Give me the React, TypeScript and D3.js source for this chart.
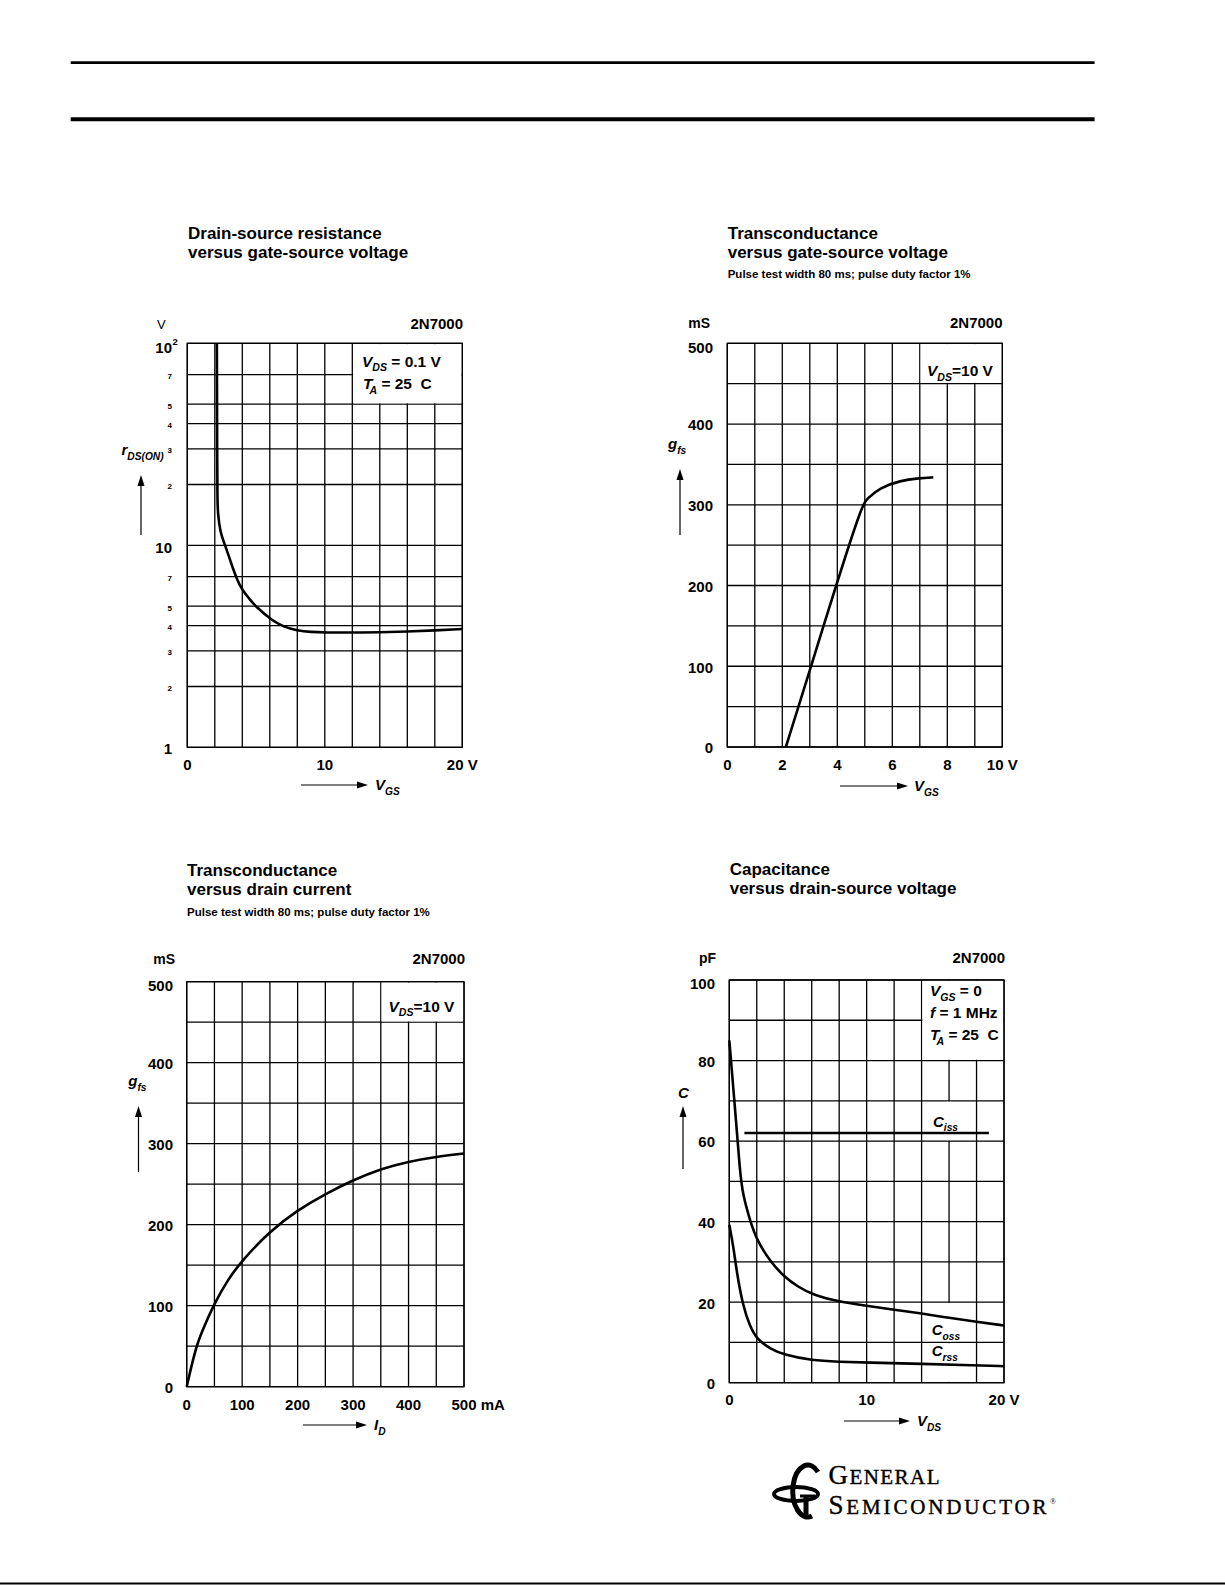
import * as d3 from 'd3';
import React from 'react';

const FONT = '"Liberation Sans", Arial, Helvetica, sans-serif';
const SERIF = '"Liberation Serif", "Times New Roman", serif';

// Drain-source resistance vs gate-source voltage (log y)
const rdsVgs = [2.15, 2.16, 2.17, 2.19, 2.22, 2.4, 2.76, 3.2, 3.6, 4.0, 4.5, 5.0, 6.16, 7.0, 8.0, 9.0, 10, 12, 14, 16, 18, 20];
const rdsOhm = [100, 60, 30, 17, 14.4, 11.5, 10, 8.1, 6.8, 6.0, 5.45, 4.95, 4.25, 3.95, 3.78, 3.72, 3.7, 3.7, 3.71, 3.74, 3.79, 3.85];
const rdsGridY = [1, 2, 3, 4, 5, 7, 10, 20, 30, 40, 50, 70, 100];
const rdsMinorTicks = [2, 3, 4, 5, 7, 20, 30, 40, 50, 70];
const rdsMinorLabels = ['2', '3', '4', '5', '7', '2', '3', '4', '5', '7'];
const rdsXGrid = [0, 2, 4, 6, 8, 10, 12, 14, 16, 18, 20];
const rdsXTicks = [0, 10, 20];
const rdsXLabels = ['0', '10', '20 V'];

// Transconductance vs gate-source voltage
const gfsVgs = [2.13, 3.0, 4.0, 4.9, 5.1, 5.55, 6.28, 7.0, 7.49];
const gfsVgsMs = [0, 95, 205, 300, 308, 321, 330, 333, 334];
const msGrid = [0, 50, 100, 150, 200, 250, 300, 350, 400, 450, 500];
const msTicks = [0, 100, 200, 300, 400, 500];
const vgsXGrid = [0, 1, 2, 3, 4, 5, 6, 7, 8, 9, 10];
const vgsXTicks = [0, 2, 4, 6, 8, 10];
const vgsXLabels = ['0', '2', '4', '6', '8', '10 V'];

// Transconductance vs drain current
const idMa = [0, 10, 20, 30, 50, 75, 100, 150, 200, 250, 300, 350, 400, 450, 500];
const gfsIdMs = [0, 30, 55, 72, 103, 133, 156, 192, 218, 238, 255, 269, 278, 284, 288];
const idXGrid = [0, 50, 100, 150, 200, 250, 300, 350, 400, 450, 500];
const idXTicks = [0, 100, 200, 300, 400, 500];
const idXLabels = ['0', '100', '200', '300', '400', '500'];

// Capacitance vs drain-source voltage
const cissVds = [1.1, 18.9];
const cissPf = [62, 62];
const cossVds = [0, 0.4, 0.78, 1.0, 1.5, 2, 3, 4, 5, 6.1, 8, 10, 12, 14, 16, 18, 20];
const cossPf = [85, 69, 52, 46.5, 40.4, 35.4, 30, 26.3, 23.8, 21.8, 20.1, 19.1, 18.1, 17.2, 16.1, 15.1, 14.2];
const crssVds = [0, 0.3, 0.55, 1.0, 1.5, 2, 3, 4, 6, 8, 10, 14, 18, 20];
const crssPf = [39.2, 33.8, 27.2, 19, 14, 10.8, 8.4, 6.9, 5.5, 5.2, 5.0, 4.7, 4.3, 4.1];
const pfGrid = [0, 10, 20, 30, 40, 50, 60, 70, 80, 90, 100];
const pfTicks = [0, 20, 40, 60, 80, 100];
const vdsXGrid = [0, 2, 4, 6, 8, 10, 12, 14, 16, 18, 20];
const vdsXTicks = [0, 10, 20];
const vdsXLabels = ['0', '10', '20 V'];

type Part = { t: string; i?: boolean; sub?: boolean; sup?: boolean; dx?: number };
type Scale = (v: number) => number;

const Rich: React.FC<{ x: number; y: number; parts: Part[]; size: number; anchor?: string; weight?: string }> = ({ x, y, parts, size, anchor = 'start', weight = 'bold' }) => {
  let shift = 0;
  return (
    <text x={x} y={y} fontSize={size} fontWeight={weight} textAnchor={anchor} fontFamily={FONT} style={{ whiteSpace: 'pre' }}>
      {parts.map((p, k) => {
        const target = p.sub ? size * 0.3 : p.sup ? -size * 0.42 : 0;
        const dy = target - shift;
        shift = target;
        return (
          <tspan key={k} dy={dy} dx={p.dx || 0} fontStyle={p.i ? 'italic' : 'normal'} fontSize={p.sub || p.sup ? size * 0.68 : size}>
            {p.t}
          </tspan>
        );
      })}
    </text>
  );
};

const UpArrow: React.FC<{ x: number; y0: number; y1: number }> = ({ x, y0, y1 }) => (
  <g>
    <line x1={x} x2={x} y1={y0} y2={y1 + 8} stroke="#000" strokeWidth={1.2} />
    <path d={`M${x},${y1} L${x - 3.5},${y1 + 11} L${x + 3.5},${y1 + 11}Z`} fill="#000" />
  </g>
);

const RightArrow: React.FC<{ x0: number; x1: number; y: number }> = ({ x0, x1, y }) => (
  <g>
    <line x1={x0} x2={x1 - 8} y1={y} y2={y} stroke="#000" strokeWidth={1.2} />
    <path d={`M${x1},${y} L${x1 - 11},${y - 3.5} L${x1 - 11},${y + 3.5}Z`} fill="#000" />
  </g>
);

interface Series { xs: number[]; ys: number[]; curve?: boolean }
interface Gap { x: number; from: number; to: number }

const Panel: React.FC<{
  x: d3.ScaleLinear<number, number>;
  y: Scale & { range: () => number[] };
  xGrid: number[];
  yGrid: number[];
  legend: [number, number, number, number];
  gaps?: Gap[];
  series: Series[];
}> = ({ x, y, xGrid, yGrid, legend, gaps = [], series }) => {
  const [l, r] = x.range();
  const [b, t] = y.range();
  const sw = 1.3;
  return (
    <g>
      {yGrid.map((v) => (
        <line key={'h' + v} x1={l} x2={r} y1={y(v)} y2={y(v)} stroke="#000" strokeWidth={sw} />
      ))}
      {xGrid.map((v) => (
        <line key={'v' + v} x1={x(v)} x2={x(v)} y1={t} y2={b} stroke="#000" strokeWidth={sw} />
      ))}
      <rect
        x={x(legend[0]) + 0.8}
        y={y(legend[3]) + 0.8}
        width={x(legend[1]) - x(legend[0]) - 1.6}
        height={y(legend[2]) - y(legend[3]) - 1.6}
        fill="#fff"
      />
      {gaps.map((g, k) => (
        <rect key={'g' + k} x={x(g.x) - 2} width={4} y={y(g.to) + 0.8} height={y(g.from) - y(g.to) - 1.6} fill="#fff" />
      ))}
      <rect x={l} y={t} width={r - l} height={b - t} fill="none" stroke="#000" strokeWidth={sw} />
      {series.map((s, k) => {
        const line = d3
          .line<number>()
          .x((_d, i) => x(s.xs[i]))
          .y((d) => y(d))
          .curve(s.curve === false ? d3.curveLinear : d3.curveBasis);
        return <path key={'s' + k} d={line(s.ys) || ''} fill="none" stroke="#000" strokeWidth={2.6} strokeLinejoin="round" />;
      })}
    </g>
  );
};

const YTicks: React.FC<{ y: Scale; ticks: number[]; labels?: string[]; xr: number; size?: number; top: number }> = ({ y, ticks, labels, xr, size = 15, top }) => (
  <g>
    {ticks.map((v, i) => (
      <text
        key={v}
        x={xr}
        y={y(v) + size * 0.36 + (v === top ? 4 : 1)}
        textAnchor="end"
        fontFamily={FONT}
        fontWeight="bold"
        fontSize={size}
      >
        {labels ? labels[i] : String(v)}
      </text>
    ))}
  </g>
);

const XTicks: React.FC<{ x: Scale; ticks: number[]; labels: string[]; yb: number }> = ({ x, ticks, labels, yb }) => (
  <g>
    {ticks.map((v, i) => (
      <text key={v} x={x(v)} y={yb} textAnchor="middle" fontFamily={FONT} fontWeight="bold" fontSize={15} style={{ whiteSpace: 'pre' }}>
        {labels[i]}
      </text>
    ))}
  </g>
);

const Title: React.FC<{ x: number; y: number; lines: string[]; sub?: string; subY?: number }> = ({ x, y, lines, sub, subY }) => (
  <g fontFamily={FONT} fontWeight="bold">
    {lines.map((s, i) => (
      <text key={i} x={x} y={y + i * 19} fontSize={17}>
        {s}
      </text>
    ))}
    {sub && (
      <text x={x} y={subY} fontSize={11.5}>
        {sub}
      </text>
    )}
  </g>
);

const App: React.FC = () => {
  // panel 1
  const x1 = d3.scaleLinear().domain([0, 20]).range([187.3, 462.3]);
  const y1 = d3.scaleLog().domain([1, 100]).range([747.3, 343.3]);
  // panel 2
  const x2 = d3.scaleLinear().domain([0, 10]).range([727.3, 1002.3]);
  const y2 = d3.scaleLinear().domain([0, 500]).range([747, 343.3]);
  // panel 3
  const x3 = d3.scaleLinear().domain([0, 500]).range([186.7, 464]);
  const y3 = d3.scaleLinear().domain([0, 500]).range([1386.7, 981.7]);
  // panel 4
  const x4 = d3.scaleLinear().domain([0, 20]).range([729.3, 1004]);
  const y4 = d3.scaleLinear().domain([0, 100]).range([1382.7, 980]);

  const lbl = { fontFamily: FONT, fontWeight: 'bold' as const };

  return (
    <svg width={1225} height={1585} style={{ position: 'absolute', left: 0, top: 0 }} xmlns="http://www.w3.org/2000/svg">
      <rect width={1225} height={1585} fill="#fff" />
      {/* page header rules */}
      <line x1={70.7} x2={1094.6} y1={62.7} y2={62.7} stroke="#000" strokeWidth={2.8} />
      <line x1={70.7} x2={1094.6} y1={119.3} y2={119.3} stroke="#000" strokeWidth={4} />

      {/* ---------- panel 1 ---------- */}
      <Title x={188} y={239} lines={['Drain-source resistance', 'versus gate-source voltage']} />
      <text x={157} y={328.5} fontFamily={FONT} fontSize={13}>V</text>
      <text x={463} y={328.5} textAnchor="end" {...lbl} fontSize={15}>2N7000</text>
      <Panel
        x={x1}
        y={y1}
        xGrid={rdsXGrid}
        yGrid={rdsGridY}
        legend={[12, 20, 50, 100]}
        series={[{ xs: rdsVgs, ys: rdsOhm }]}
      />
      <text x={172} y={y1(1) + 6.4} textAnchor="end" {...lbl} fontSize={15}>1</text>
      <text x={172} y={y1(10) + 7.4} textAnchor="end" {...lbl} fontSize={15}>10</text>
      <text x={172} y={y1(100) + 9.4} textAnchor="end" {...lbl} fontSize={15}>10</text>
      <text x={172.5} y={y1(100) + 2} {...lbl} fontSize={9.5}>2</text>
      {rdsMinorTicks.map((v, i) => (
        <text key={v} x={172} y={y1(v) + 4.5} textAnchor="end" {...lbl} fontSize={8}>
          {rdsMinorLabels[i]}
        </text>
      ))}
      <Rich x={121.5} y={455} size={15} parts={[{ t: 'r', i: true }, { t: 'DS(ON)', i: true, sub: true }]} />
      <UpArrow x={141} y0={535} y1={475} />
      <XTicks x={x1} ticks={rdsXTicks} labels={rdsXLabels} yb={770} />
      <RightArrow x0={301} x1={368} y={785} />
      <Rich x={375} y={790} size={15} parts={[{ t: 'V', i: true }, { t: 'GS', i: true, sub: true }]} />
      <Rich x={362} y={366.7} size={15.5} parts={[{ t: 'V', i: true }, { t: 'DS', i: true, sub: true }, { t: ' = 0.1 V' }]} />
      <Rich x={363} y={389.3} size={15.5} parts={[{ t: 'T', i: true }, { t: 'A', i: true, sub: true, dx: -3 }, { t: ' = 25  C' }]} />

      {/* ---------- panel 2 ---------- */}
      <Title
        x={727.7}
        y={239}
        lines={['Transconductance', 'versus gate-source voltage']}
        sub="Pulse test width 80 ms; pulse duty factor 1%"
        subY={278}
      />
      <text x={710} y={327.5} textAnchor="end" {...lbl} fontSize={14}>mS</text>
      <text x={1002.5} y={327.5} textAnchor="end" {...lbl} fontSize={15}>2N7000</text>
      <Panel
        x={x2}
        y={y2}
        xGrid={vgsXGrid}
        yGrid={msGrid}
        legend={[7, 10, 450, 500]}
        series={[{ xs: gfsVgs, ys: gfsVgsMs }]}
      />
      <YTicks y={y2} ticks={msTicks} xr={713} top={500} />
      <Rich x={668} y={449} size={15} parts={[{ t: 'g', i: true }, { t: 'fs', i: true, sub: true }]} />
      <UpArrow x={680} y0={535} y1={469} />
      <XTicks x={x2} ticks={vgsXTicks} labels={vgsXLabels} yb={770} />
      <RightArrow x0={840} x1={908} y={786} />
      <Rich x={914} y={791} size={15} parts={[{ t: 'V', i: true }, { t: 'GS', i: true, sub: true }]} />
      <Rich x={927} y={376} size={15.5} parts={[{ t: 'V', i: true }, { t: 'DS', i: true, sub: true }, { t: '=10 V' }]} />

      {/* ---------- panel 3 ---------- */}
      <Title
        x={187}
        y={876}
        lines={['Transconductance', 'versus drain current']}
        sub="Pulse test width 80 ms; pulse duty factor 1%"
        subY={916}
      />
      <text x={175} y={964} textAnchor="end" {...lbl} fontSize={14}>mS</text>
      <text x={465} y={964} textAnchor="end" {...lbl} fontSize={15}>2N7000</text>
      <Panel
        x={x3}
        y={y3}
        xGrid={idXGrid}
        yGrid={msGrid}
        legend={[350, 500, 450, 500]}
        series={[{ xs: idMa, ys: gfsIdMs }]}
      />
      <YTicks y={y3} ticks={msTicks} xr={173} top={500} />
      <Rich x={128.3} y={1086} size={15} parts={[{ t: 'g', i: true }, { t: 'fs', i: true, sub: true }]} />
      <UpArrow x={138.5} y0={1172} y1={1106} />
      <XTicks x={x3} ticks={idXTicks} labels={idXLabels} yb={1410} />
      <text x={x3(500) + 12.5} y={1410} {...lbl} fontSize={15} style={{ whiteSpace: 'pre' }}> mA</text>
      <RightArrow x0={303} x1={367} y={1425} />
      <Rich x={374} y={1430} size={15} parts={[{ t: 'I', i: true }, { t: 'D', i: true, sub: true }]} />
      <Rich x={388.5} y={1011.7} size={15.5} parts={[{ t: 'V', i: true }, { t: 'DS', i: true, sub: true }, { t: '=10 V' }]} />

      {/* ---------- panel 4 ---------- */}
      <Title x={729.7} y={874.5} lines={['Capacitance', 'versus drain-source voltage']} />
      <text x={716} y={962.7} textAnchor="end" {...lbl} fontSize={14}>pF</text>
      <text x={1005} y={962.5} textAnchor="end" {...lbl} fontSize={15}>2N7000</text>
      <Panel
        x={x4}
        y={y4}
        xGrid={vdsXGrid}
        yGrid={pfGrid}
        legend={[14, 20, 80, 100]}
        gaps={[
          { x: 16, from: 60, to: 70 },
          { x: 16, from: 10, to: 20 },
          { x: 16, from: 0, to: 10 },
        ]}
        series={[
          { xs: cissVds, ys: cissPf, curve: false },
          { xs: cossVds, ys: cossPf },
          { xs: crssVds, ys: crssPf },
        ]}
      />
      <YTicks y={y4} ticks={pfTicks} xr={715} top={100} />
      <Rich x={678} y={1098} size={15} parts={[{ t: 'C', i: true }]} />
      <UpArrow x={683} y0={1169} y1={1106} />
      <XTicks x={x4} ticks={vdsXTicks} labels={vdsXLabels} yb={1405} />
      <RightArrow x0={844} x1={910} y={1421} />
      <Rich x={917} y={1426} size={15} parts={[{ t: 'V', i: true }, { t: 'DS', i: true, sub: true }]} />
      <Rich x={930} y={996} size={15.5} parts={[{ t: 'V', i: true }, { t: 'GS', i: true, sub: true }, { t: ' = 0' }]} />
      <Rich x={930} y={1018.3} size={15.5} parts={[{ t: 'f', i: true }, { t: ' = 1 MHz' }]} />
      <Rich x={930} y={1040} size={15.5} parts={[{ t: 'T', i: true }, { t: 'A', i: true, sub: true, dx: -3 }, { t: ' = 25  C' }]} />
      <Rich x={933} y={1126.7} size={15} parts={[{ t: 'C', i: true }, { t: 'iss', i: true, sub: true }]} />
      <Rich x={931.7} y={1335} size={15} parts={[{ t: 'C', i: true }, { t: 'oss', i: true, sub: true }]} />
      <Rich x={931.7} y={1356} size={15} parts={[{ t: 'C', i: true }, { t: 'rss', i: true, sub: true }]} />

      {/* ---------- logo ---------- */}
      <g fill="none" stroke="#000">
        <path d="M818,1472 A15,26 0 1 0 812,1516" strokeWidth={5} />
        <ellipse cx={796} cy={1494} rx={22} ry={7} strokeWidth={4} />
        <line x1={806} x2={806} y1={1496} y2={1518} strokeWidth={5} />
        <line x1={800} x2={815} y1={1496} y2={1496} strokeWidth={3} />
      </g>
      <text x={828.5} y={1484.3} fontFamily={SERIF} fontSize={27} textLength={111} lengthAdjust="spacing" stroke="#000" strokeWidth={0.4}>
        G<tspan fontSize={21}>ENERAL</tspan>
      </text>
      <text x={828.5} y={1514} fontFamily={SERIF} fontSize={27} textLength={218} lengthAdjust="spacing" stroke="#000" strokeWidth={0.4}>
        S<tspan fontSize={21}>EMICONDUCTOR</tspan>
      </text>
      <text x={1050} y={1504} fontFamily={SERIF} fontSize={8}>®</text>

      {/* page bottom rule */}
      <line x1={0} x2={1225} y1={1583.5} y2={1583.5} stroke="#000" strokeWidth={2} />
    </svg>
  );
};

export default App;
